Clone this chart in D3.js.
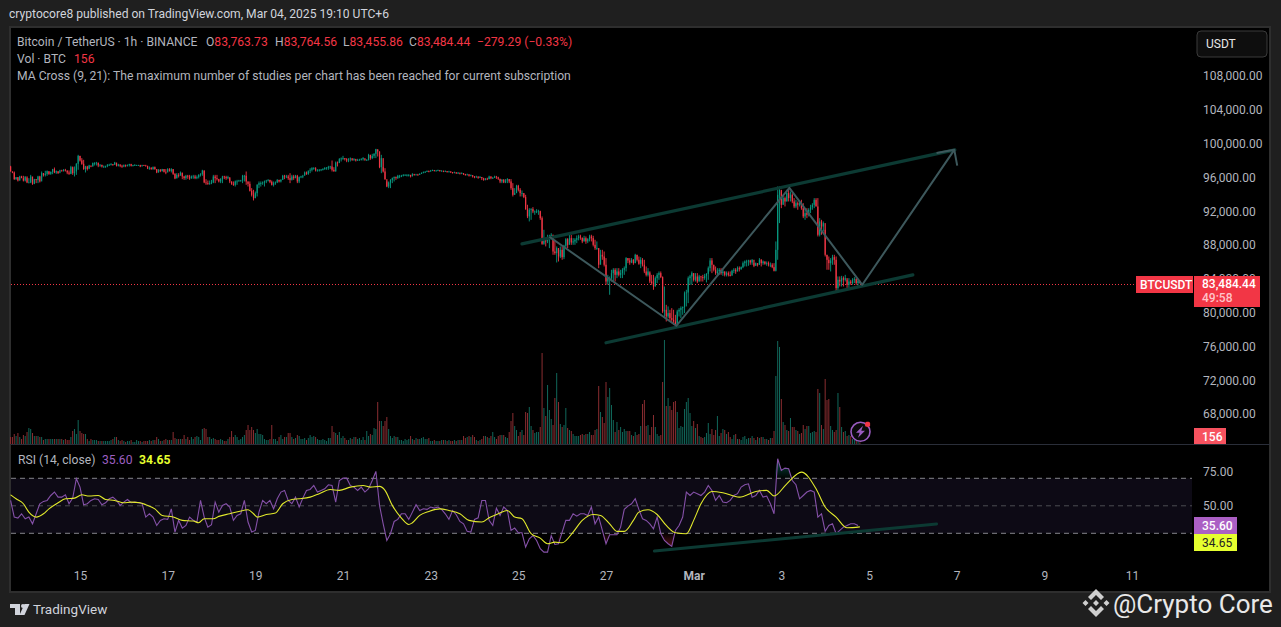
<!DOCTYPE html>
<html>
<head>
<meta charset="utf-8">
<title>BTCUSDT 1h</title>
<script src="https://cdn.jsdelivr.net/npm/d3@7"></script>
<style>
  html, body { margin: 0; padding: 0; background: #1f1f1f; overflow: hidden; }
  svg { display: block; }
  text { font-family: Roboto, "Noto Sans", sans-serif; }
  .axis path { display: none; }
  .axis text { fill: #b2b5be; font-size: 12px; font-family: Roboto, "Noto Sans", sans-serif; }
</style>
</head>
<body>
<script>
// hourly candles, first one is Feb 13 2025 10:00 UTC, one hour apart
const firstOpen = 97290;
const closes = [
96700,96580,95790,96030,95630,96110,95910,95630,96110,95400,
95400,96110,95240,95790,95710,96110,95520,96500,96300,96420,
96740,96420,96660,96980,96580,96740,96500,96820,96740,96900,
96820,96580,96420,97210,96500,96700,97610,98550,98000,97610,
96980,97290,96980,97410,97290,97690,97690,97760,97410,97490,
97290,97290,97370,97490,97490,97570,97490,97760,97370,97530,
97370,97290,97450,97370,97450,97570,97370,97450,97450,97450,
97450,97290,97450,97410,97370,97050,97130,96980,97210,96980,
96580,96900,96740,96980,96660,96580,96980,96740,96980,96420,
95870,96300,96190,96580,96110,95910,96190,96110,95870,96110,
96110,95910,96030,96300,96380,96820,95400,95320,95240,95320,
95400,96110,95910,95790,95520,95790,96110,96030,95910,96030,
95520,95240,95120,95520,95520,95630,95630,96190,96190,95520,
95240,94410,93940,93540,94130,95120,95320,95320,95400,95520,
95630,95710,95480,95120,95320,95400,95710,95520,95710,96190,
96110,96110,95910,95710,96110,95910,96190,95520,96030,96110,
96190,96580,96420,96820,96900,97090,97090,96820,96820,96900,
96940,96980,97130,97170,97210,97290,96900,96700,97760,97690,
98160,98240,98280,98160,98000,98160,98240,98080,98160,98000,
98080,98080,98160,98280,98080,98080,98670,98280,98550,98790,
99340,99070,97210,98280,96700,95790,94920,95400,95710,95910,
96030,95910,96190,96190,96190,96300,96300,96300,96300,96110,
96380,96300,96340,96300,96400,96500,96600,96650,96750,96700,
96800,96850,96780,96800,96850,96750,96780,96700,96750,96650,
96700,96620,96550,96600,96500,96550,96450,96500,96400,96300,
96350,96200,96250,96100,96000,96100,95950,96050,95900,95700,
95850,95800,96100,95900,95950,96100,96000,95850,
95520,95720,95400,95640,95800,95520,94730,93940,94140,95010,
94530,94140,94140,93670,92240,91380,92170,92240,91970,91970,
91970,92050,91180,88140,88810,88420,88810,88810,89210,87230,
87040,87630,86640,87430,86560,87910,88690,88020,88810,88300,
88420,88620,88810,89010,88890,88420,88810,88420,88690,89010,
88810,88020,87630,87630,85660,86840,86640,85660,83680,84080,
84080,84670,85070,84470,84870,84470,84670,85070,85260,86450,
86170,85930,86250,85850,86840,86250,85780,86250,85660,84870,
84470,84870,83680,83490,83090,84080,84470,84670,84200,80130,
80330,79540,79940,79340,79150,78950,78560,80130,80330,80530,
80650,82300,82380,84080,84280,84670,83880,84280,83680,84280,
84200,84080,84350,84590,85260,86170,85660,85070,84670,84870,
85070,84670,84870,84470,84670,84470,84350,84950,85070,84870,
85260,85140,85380,85850,86050,86050,86170,85930,86250,85540,
85850,85660,86250,85850,86050,85780,85850,85660,85660,85380,
84950,87430,93940,94530,92760,93550,93150,94140,93550,93940,
93150,92560,92950,92760,92950,92360,91380,91770,91570,92170,
92480,92760,93350,92560,89210,90790,90190,90590,86840,86250,
85850,86170,86560,86250,82900,83880,83680,84080,83880,84080,
83290,83680,83490,83880,83960,83490,83763,83484];
const highs = [
97370,96700,96700,96030,96030,96190,96190,96190,96110,95910,
95910,96300,95790,95830,95790,96190,96190,96700,96500,96780,
96820,96700,96700,97010,97170,96820,96700,96900,96900,96980,
97010,96820,96820,97370,97290,97290,97690,98670,98550,98280,
98080,97370,97370,97490,97370,97760,97800,97840,97690,97570,
97490,97410,97370,97570,97610,97690,97570,97840,97610,97610,
97530,97490,97530,97530,97530,97610,97610,97490,97570,97490,
97490,97490,97490,97490,97490,97370,97290,97210,97290,97290,
96980,96980,96980,97010,96980,96980,97090,97090,97090,96980,
96500,96500,96500,96700,96500,96190,96300,96300,96300,96230,
96300,96300,96230,96380,96500,96900,96820,95790,95630,95630,
95710,96300,96300,96300,95830,95910,96190,96190,96190,96190,
95910,95520,95520,95630,95710,95710,95710,96300,96300,96700,
95520,95520,94730,94530,94330,95200,95520,95520,95520,95630,
95710,95790,95710,95630,95520,95520,95790,95710,95790,96300,
96300,96300,96300,96500,96300,96300,96300,96300,96110,96190,
96300,96700,96700,96700,97090,97210,97210,97210,96980,96980,
96980,97090,97210,97210,97370,97370,98000,97210,97880,97880,
98280,98360,98550,98280,98280,98280,98360,98280,98280,98200,
98200,98200,98280,98400,98160,98160,98790,98670,98790,98870,
99380,99260,99070,98670,97210,97090,95520,95520,95790,95990,
96110,96110,96300,96300,96300,96380,96380,96380,96380,96300,
96500,96420,96420,96420,96500,96600,96700,96750,96830,96820,
96880,96920,96880,96880,96920,96880,96860,96800,96830,96760,
96780,96720,96640,96680,96620,96640,96560,96600,96520,96420,
96440,96380,96340,96280,96160,96200,96120,96160,96020,95960,
95920,95960,96200,96140,96060,96200,96180,96080,
95800,95800,95800,95800,95910,95800,95800,95320,94730,95120,
95120,94730,94450,94140,93940,92760,92360,92360,92480,92090,
92240,92170,91970,91380,89800,88810,89210,89210,89400,89210,
88620,87830,87630,87830,87830,88020,88810,88810,89400,89210,
88810,88810,89130,89210,89210,88810,89090,89010,88810,89210,
89210,89090,88620,88420,87630,87430,87430,87230,86450,84470,
84280,85070,85260,85260,85260,85260,85070,85260,85460,86560,
86450,86450,86450,86330,86960,86840,86640,86560,86450,86250,
85460,85260,84670,84470,84470,84280,84670,84870,84870,84280,
83090,80920,80730,80330,80530,80330,79740,80330,80530,80730,
80730,82500,82700,84280,84470,84870,84670,84670,84670,84470,
84350,84470,84590,84670,85460,86450,86450,85660,85460,85260,
85260,85260,85070,84870,84870,84870,84870,85070,85260,85260,
85460,85460,85460,86050,86170,86250,86250,86250,86330,85850,
85930,85850,86450,86330,86170,86050,86050,86050,85930,85850,
85850,88420,94930,94930,94340,93940,93740,94530,94730,94340,
94140,93550,93350,93150,93150,93350,92950,92360,92360,92360,
92760,92950,93550,93550,93550,91180,90980,90790,89800,86840,
86640,86450,86840,86840,86640,84280,84280,84350,84280,84470,
83880,84080,83880,84080,84200,84080,84000,83764];
const lows = [
96700,96500,95710,95710,95520,95630,95910,95520,95520,95320,
95320,95320,95120,95200,95320,95320,95400,95990,96110,96110,
96190,96300,96300,96380,96500,96420,96420,96700,96700,96700,
96700,96380,96300,96380,96300,96110,96300,96900,97880,97490,
96900,96580,96820,97090,97210,97290,97410,97410,97210,97250,
97170,97130,97130,97210,97370,97410,97370,97490,97290,97290,
97210,97130,97210,97210,97290,97290,97290,97290,97370,97370,
97370,97210,97370,97370,97290,96980,96900,96900,96900,96900,
96500,96580,96620,96700,96580,96380,96700,96700,96580,96300,
95790,95910,95990,96300,95790,95710,95710,95830,95710,95870,
95830,95790,95790,95870,96110,96190,95320,95120,95120,95120,
95200,95320,95320,95630,95400,95320,95320,95790,95710,95790,
95320,95120,95000,94920,95120,95520,95520,95320,95520,95120,
94920,94330,93740,93270,93540,93740,94730,94920,95120,94920,
95320,95520,95320,95040,94920,95120,95320,95400,95400,95710,
95790,95910,95710,95320,95630,95710,95910,95320,95320,95910,
95910,96300,96300,96300,96500,96700,96900,96700,96700,96700,
96740,96820,96900,96900,96900,96980,96700,96700,96700,97290,
97760,97880,98080,98000,97800,97800,97880,97960,97960,97880,
97960,98000,98000,98000,97960,97960,98000,98080,98160,98280,
98280,98470,97090,96500,96580,95710,94840,94730,94730,95320,
95520,95710,95830,95910,96030,96110,96190,96110,96110,95990,
96200,96200,96250,96200,96300,96400,96500,96550,96650,96600,
96680,96750,96700,96720,96740,96680,96700,96620,96640,96560,
96600,96520,96450,96500,96400,96420,96350,96380,96280,96200,
96240,96100,96140,95980,95900,95960,95840,95920,95680,95600,
95650,95680,95780,95780,95820,95920,95820,95700,
95320,95320,95320,95320,95320,95320,94530,93740,93940,94140,
94340,93740,93740,93550,92170,91180,90790,90980,91770,91570,
91770,91570,90980,88020,88020,87830,88220,87630,88620,86840,
86840,85930,86050,86450,86250,86330,87630,87630,88420,88020,
88020,88020,88220,88540,88620,88220,88420,88140,88220,88420,
88420,87830,87430,87430,85260,86250,86250,85460,83290,83290,
82110,83680,83680,83680,84080,84280,84080,84080,84470,84870,
85850,85660,85850,85660,85850,86050,85660,85260,85460,84670,
84280,84280,83490,83290,82700,83090,83490,83880,84080,79940,
79340,78950,79340,78950,78750,78560,78280,78560,79540,79340,
79740,79940,80730,81120,83290,83290,83680,83680,83490,83680,
83680,83680,83880,83570,83880,84870,84670,84870,84470,84350,
84470,84470,84350,84280,84280,84280,84280,84470,84670,84590,
84870,84870,85070,85260,85460,85460,85540,85660,85660,85380,
85540,85460,85660,85460,85660,85660,85540,85460,85380,85260,
84870,84870,86250,90590,92360,92760,92560,93150,93150,93150,
92950,92360,92360,92170,92560,92170,91180,90980,91180,91380,
91770,92170,92360,92560,89010,89010,89210,89600,86640,85070,
85070,84870,85660,85660,82500,82380,83090,83090,83090,83680,
82900,82900,83290,83290,83490,83290,83090,83455];
// volume in hundreds of BTC
const volumes = [
7,7,10,8,11,7,5,9,8,12,16,15,11,8,8,8,7,7,4,5,
5,5,5,5,5,5,5,5,5,4,5,4,4,7,13,15,10,24,13,11,
10,10,5,3,5,4,4,4,3,3,3,3,3,3,3,4,5,7,7,4,
3,4,3,2,3,3,4,2,2,4,3,3,2,3,3,3,4,3,4,4,
7,5,3,3,4,5,4,4,4,12,6,5,5,5,5,9,5,7,4,7,
5,7,8,7,4,15,16,15,7,7,5,6,5,4,4,5,4,3,3,5,
7,13,7,9,7,4,5,7,9,14,19,14,17,14,11,15,10,10,9,5,
4,4,5,19,5,5,3,7,9,5,7,7,11,11,7,5,6,9,8,5,
5,6,4,6,9,7,8,7,5,4,4,5,4,3,6,6,18,12,11,9,
12,6,8,6,4,4,6,5,7,7,5,6,4,7,4,13,8,10,9,16,
15,42,23,23,18,23,27,15,8,6,8,7,7,4,4,3,5,4,5,8,
5,4,6,5,5,6,7,5,5,6,3,3,4,3,3,
3,4,4,4,3,4,3,3,4,3,4,4,4,8,6,7,8,7,9,7,
4,3,4,5,8,8,7,6,8,12,7,5,8,9,9,9,7,6,12,23,
31,18,14,8,12,14,9,32,31,37,18,14,11,12,12,17,91,36,28,59,
34,25,19,46,71,42,20,17,19,36,16,14,13,10,8,8,8,9,10,9,
10,10,12,9,9,14,15,58,32,27,21,62,47,56,39,24,12,22,14,17,
12,15,13,13,13,9,8,12,9,10,18,40,44,18,19,9,17,29,17,10,
8,9,62,104,38,46,38,34,42,43,32,16,18,17,35,42,46,31,18,23,
16,20,8,7,6,7,11,21,10,15,9,14,28,8,11,15,14,10,12,7,
5,9,10,5,5,4,7,8,5,6,6,8,6,4,7,6,7,7,5,5,
4,6,6,13,68,103,97,45,22,19,14,13,26,17,17,14,13,10,11,19,
15,18,18,11,12,13,12,55,51,19,15,65,44,45,18,14,12,14,51,37,
17,12,13,8,9,8,5,4,3,3,1.56];
// rsi read every second hour
const rsiValues = [
53.9,41.8,41.1,44.2,40.6,41.8,36.9,44.2,51.5,53.2,
53.9,57.5,60,56.3,56.3,58,51.5,55.6,69.7,63.6,
50.8,51.5,53.9,55.1,54.6,50.8,52.2,55.1,56.3,53.9,
50.3,52.7,54.6,52.2,52.7,52.2,51.5,41.8,44.2,41.8,
35.7,39.4,40.6,40.1,47.8,30.9,39.4,33.8,35.7,41.8,
39.4,38.2,53.9,41.8,34.5,36.2,52.7,45.4,50.3,51.5,
49.1,39.4,43,44.2,53.9,38.2,30.9,32.1,45.4,53.9,
51.5,53.9,47.8,55.1,60,61.2,53.9,51.5,56.3,49.1,
55.6,61.2,61.9,64.8,60,61.2,62.4,65.3,64.8,52.7,
68.4,70.1,70.1,64.8,63.6,61.2,63.6,60,62.4,68.4,
75,50.3,36.9,24.8,29.7,38.6,40.1,44.2,44.2,40.1,
45.4,50.8,46.6,47.8,47.4,49.1,48.3,
49.1,47.4,44.2,40.1,46.6,43.5,38.6,36.9,31.4,30.9,
40.1,41.3,53.9,53.9,39.4,35.7,48.3,43,49.1,46.6,
32.1,33.8,30.4,30.4,20,26,28.4,24.8,18.8,16.3,
16.3,28.4,21.9,22.4,30.9,39.4,39.4,44.2,42.5,44.2,
44.2,43,49.1,36.9,41.8,32.1,22.4,28.9,28.9,28.9,
34.5,47.4,49.8,51.5,55.1,47.4,40.6,39.4,36.9,33.3,
41.8,29.7,24.8,22.4,20.5,32.1,35.7,41.8,60,57.5,
60,58.8,57.5,60,64.8,61.2,53.9,57.5,52.7,52.2,
53.9,57.5,58.8,63.6,65.3,66,56.3,57.5,61.2,56.3,
57.1,51.5,44.2,84.2,75.7,77.4,76.9,68.4,65.3,55.1,
57.5,60,61.2,60,41.8,44.2,31.4,35.7,36.9,29.7,
32.1,34.5,35.7,36.9,36.9,35.6];
const maHours = [
0,3,7,10,14,18,21,26,30,35,39,43,48,52,57,62,66,71,74,79,
83,89,94,100,103,106,111,114,120,125,130,133,135,140,145,149,154,158,164,169,
175,180,186,193,197,202,205,209,214,218,220,224,229,235,
240,246,251,258,262,267,272,276,280,285,290,294,298,302,308,313,319,323,328,332,
336,341,344,349,354,359,364,370,374,378,384,390,399,408,414,418,425,433,441,446,
452,458,465];
const maValues = [
58,55.1,51.5,45.4,41.8,44.2,47.8,52.2,55.1,55.6,58,57.1,57.5,54.6,53.9,52.2,52.7,52.2,50.8,47.8,
43,41.8,39.4,38.9,37.7,40.6,40.6,42.3,44.2,45.9,47.1,44.2,41.8,43.7,44.7,51.5,54.6,55.1,56.3,58.8,
61.9,61.2,63.6,64.8,63.6,64.1,61.2,50.3,41.1,36.4,37.7,43,45.9,47.8,
46.6,44.2,39.4,38.2,41.3,44.2,46.6,41.8,40.6,29.7,26.5,22.4,23.6,23.1,30.9,39.4,43.7,43,36.9,31.4,
31.4,39.4,45.4,47.1,43.7,35.7,30.4,29.7,39.4,51.5,60.4,59.5,56.3,60.4,61.2,57.1,66,74.5,62.4,49.1,
41.8,34,34.65];

const priceTicks = [108000,104000,100000,96000,92000,88000,84000,80000,76000,72000,68000];
const rsiTicks = [75,50];
const rsiBands = [70,50,30];
const timeTicks = ["2025-02-15","2025-02-17","2025-02-19","2025-02-21","2025-02-23","2025-02-25","2025-02-27","2025-03-01","2025-03-03","2025-03-05","2025-03-07","2025-03-09","2025-03-11"];
const timeLabels = ["15","17","19","21","23","25","27","Mar","3","5","7","9","11"];

// hand drawn lines as [hour, price] / [hour, rsi]
const channelUpper = [[280,88140],[517,99260]];
const channelLower = [[326,76430],[494,84470]];
const zigzag = [[295,88970],[364.5,78440],[426.4,94770],[466.3,83290],[516.7,99260]];
const arrowHead = [[507,98900],[516.7,99260],[518.3,97400]];
const rsiTrend = [[352.5,17.1],[507,36.8]];

const lastPrice = 83484.44, lastVolume = 1.56, lastRsi = 35.60, lastMa = 34.65;

const W = 1281, H = 627;
const red = "#f23645", green = "#089981";
const svg = d3.select("body").append("svg").attr("width", W).attr("height", H);

// frame
svg.append("rect").attr("width", W).attr("height", H).attr("fill", "#1f1f1f");
svg.append("rect").attr("x", 10).attr("y", 27).attr("width", 1260).attr("height", 565)
   .attr("fill", "#000").attr("stroke", "#2e2e2e").attr("stroke-width", 2);

const firstCandle = Date.UTC(2025, 1, 13, 10);
const toDate = h => new Date(firstCandle + h * 3600e3);
const x = d3.scaleUtc()
    .domain([new Date("2025-02-15T00:00Z"), new Date("2025-03-11T00:00Z")])
    .range([80, 1132]);
const xh = h => x(toDate(h));
const y = d3.scaleLinear().domain([68000, 108000]).range([414, 76]);
const yVol = d3.scaleLinear().domain([0, 104]).range([444, 340]);
const yRsi = d3.scaleLinear().domain([30, 70]).range([533.3, 478.3]);

const plotLeft = 11, rsiRight = 1192;

// volume
svg.append("g").selectAll("rect").data(volumes).join("rect")
   .attr("x", (d, i) => xh(i) - 0.5)
   .attr("width", 1)
   .attr("y", d => yVol(d))
   .attr("height", d => yVol(0) - yVol(d))
   .attr("fill", (d, i) => closes[i] >= (i ? closes[i - 1] : firstOpen) ? "#11675a" : "#8a2d31");

// last price line
const priceLineY = Math.round(y(lastPrice) + 0.5) + 0.5;
svg.append("line").attr("x1", plotLeft).attr("x2", 1136)
   .attr("y1", priceLineY).attr("y2", priceLineY)
   .attr("stroke", red).attr("stroke-width", 1).attr("stroke-dasharray", "1 2");

// candles
const candles = svg.append("g").selectAll("g").data(closes).join("g")
   .attr("fill", (d, i) => d >= (i ? closes[i - 1] : firstOpen) ? green : red)
   .attr("stroke", (d, i) => d >= (i ? closes[i - 1] : firstOpen) ? green : red);
candles.append("line")
   .attr("x1", (d, i) => xh(i)).attr("x2", (d, i) => xh(i))
   .attr("y1", (d, i) => y(highs[i])).attr("y2", (d, i) => y(lows[i]))
   .attr("stroke-width", 0.9);
candles.append("rect")
   .attr("x", (d, i) => xh(i) - 0.6).attr("width", 1.2)
   .attr("y", (d, i) => y(Math.max(d, i ? closes[i - 1] : firstOpen)))
   .attr("height", (d, i) => Math.max(0.8, Math.abs(y(d) - y(i ? closes[i - 1] : firstOpen))))
   .attr("stroke", "none");

// drawings on the price pane
const priceLine = d3.line().x(d => xh(d[0])).y(d => y(d[1]));
[channelUpper, channelLower].forEach(p => {
  svg.append("path").attr("d", priceLine(p)).attr("fill", "none")
     .attr("stroke", "#0c3a33").attr("stroke-width", 3.2).attr("stroke-linecap", "round");
});
[zigzag, arrowHead].forEach(p => {
  svg.append("path").attr("d", priceLine(p)).attr("fill", "none")
     .attr("stroke", "#3d585c").attr("stroke-width", 2).attr("stroke-linejoin", "round");
});

// pane separator
svg.append("line").attr("x1", 11).attr("x2", 1270).attr("y1", 444.5).attr("y2", 444.5).attr("stroke", "#2a2e39");

// rsi pane
const defs = svg.append("defs");
const grad = (id, c, from, to) => {
  const g = defs.append("linearGradient").attr("id", id).attr("gradientUnits", "userSpaceOnUse")
    .attr("x1", 0).attr("x2", 0).attr("y1", yRsi(from)).attr("y2", yRsi(to));
  g.append("stop").attr("offset", 0).attr("stop-color", c).attr("stop-opacity", 0.02);
  g.append("stop").attr("offset", 1).attr("stop-color", c).attr("stop-opacity", 0.55);
};
grad("os", red, 30, 15);
grad("ob", green, 70, 85);

svg.append("rect").attr("x", plotLeft).attr("width", rsiRight - plotLeft)
   .attr("y", yRsi(70)).attr("height", yRsi(30) - yRsi(70)).attr("fill", "#0d0a15");
svg.append("g").selectAll("line").data(rsiBands).join("line")
   .attr("x1", plotLeft).attr("x2", rsiRight)
   .attr("y1", d => yRsi(d)).attr("y2", d => yRsi(d))
   .attr("stroke", d => d === 50 ? "#4c4c52" : "#85858b")
   .attr("stroke-dasharray", "5 4");

const rsiPts = rsiValues.map((v, i) => [i * 2, v]);
const fillPts = rsiPts.filter(d => d[0] >= 300);
svg.append("path").datum(fillPts).attr("fill", "url(#os)")
   .attr("d", d3.area().x(d => xh(d[0])).y0(yRsi(30)).y1(d => yRsi(Math.min(d[1], 30))));
svg.append("path").datum(fillPts).attr("fill", "url(#ob)")
   .attr("d", d3.area().x(d => xh(d[0])).y0(yRsi(70)).y1(d => yRsi(Math.max(d[1], 70))));

svg.append("path").datum(rsiPts).attr("fill", "none").attr("stroke", "#8551a8").attr("stroke-width", 1.1)
   .attr("d", d3.line().x(d => xh(d[0])).y(d => yRsi(d[1])));
svg.append("path").datum(maHours.map((h, i) => [h, maValues[i]])).attr("fill", "none")
   .attr("stroke", "#e2ea2c").attr("stroke-width", 1.1)
   .attr("d", d3.line().curve(d3.curveMonotoneX).x(d => xh(d[0])).y(d => yRsi(d[1])));

svg.append("path").attr("d", d3.line().x(d => xh(d[0])).y(d => yRsi(d[1]))(rsiTrend)).attr("fill", "none")
   .attr("stroke", "#0c3a33").attr("stroke-width", 3).attr("stroke-linecap", "round");

// axes
const priceAxis = svg.append("g").attr("class", "axis").attr("transform", "translate(1196,0)")
   .call(d3.axisRight(y).tickValues(priceTicks).tickSize(0).tickPadding(7).tickFormat(d3.format(",.2f")));
const rsiAxis = svg.append("g").attr("class", "axis").attr("transform", "translate(1196,0)")
   .call(d3.axisRight(yRsi).tickValues(rsiTicks).tickSize(0).tickPadding(7).tickFormat(d3.format(".2f")));
const timeAxis = svg.append("g").attr("class", "axis").attr("transform", "translate(0,568)")
   .call(d3.axisBottom(x).tickValues(timeTicks.map(d => new Date(d + "T00:00Z"))).tickSize(0).tickPadding(3)
   .tickFormat((d, i) => timeLabels[i]));
timeAxis.selectAll("text").filter((d, i) => timeLabels[i] === "Mar").attr("font-weight", 700).attr("fill", "#d1d4dc");

// legend rows
const legend = svg.append("g").attr("font-size", 12.15);
const grey = "#b2b5be";
const legendRow = (px, py, txt, col, bold) => legend.append("text").attr("x", px).attr("y", py)
   .attr("fill", col).attr("font-weight", bold ? 700 : 400).text(txt);
legendRow(17, 46, "Bitcoin / TetherUS · 1h · BINANCE", grey);
[["O", 206, "83,763.73"], ["H", 275, "83,764.56"], ["L", 343, "83,455.86"], ["C", 409, "83,484.44"]].forEach(r => {
  const t = legendRow(r[1], 46, r[0], grey);
  t.append("tspan").attr("fill", red).text(r[2]);
});
legendRow(477, 46, "−279.29 (−0.33%)", red);
legendRow(17, 63, "Vol · BTC", grey);
legendRow(74, 63, "156", red);
legendRow(17, 80, "MA Cross (9, 21): The maximum number of studies per chart has been reached for current subscription", grey);
legendRow(18, 464, "RSI (14, close)", grey);
legendRow(102, 464, "35.60", "#9c5fc0");
legendRow(139, 464, "34.65", "#e6ff2f", true);

// title
svg.append("text").attr("x", 9).attr("y", 18).attr("font-size", 12.1).attr("fill", "#d1d4dc")
   .text("cryptocore8 published on TradingView.com, Mar 04, 2025 19:10 UTC+6");

// USDT button
svg.append("rect").attr("x", 1197).attr("y", 31).attr("width", 70).attr("height", 26).attr("rx", 4)
   .attr("fill", "#0e0e0e").attr("stroke", "#3a3a3a");
svg.append("text").attr("x", 1206).attr("y", 48).attr("font-size", 12).attr("fill", "#e6e6e6").text("USDT");

// price tags
const tag = (px, py, w, h, col) => svg.append("rect").attr("x", px).attr("y", py).attr("width", w).attr("height", h).attr("fill", col);
const tagText = (px, py, txt, col, bold) => svg.append("text").attr("x", px).attr("y", py).attr("font-size", 12)
   .attr("font-weight", bold ? 500 : 400).attr("fill", col).text(txt);
tag(1136, 276, 57, 17, red);
tagText(1140, 289, "BTCUSDT", "#fff", true);
tag(1194, 276, 66, 31, red);
tagText(1202, 288, d3.format(",.2f")(lastPrice), "#fff", true);
tagText(1202, 302, "49:58", "#ffc4c9", true);
tag(1194, 428, 32, 16, "#f7525f");
tagText(1202, 441, String(Math.round(lastVolume * 100)), "#fff", true);
tag(1194, 517, 43, 17, "#ab5fc4");
tagText(1202, 530, d3.format(".2f")(lastRsi), "#fff", true);
tag(1194, 534, 43, 17, "#e6ff2f");
tagText(1202, 547, d3.format(".2f")(lastMa), "#222", false);

// bolt icon
const bolt = svg.append("g").attr("transform", "translate(860.5,431.8)");
bolt.append("circle").attr("r", 9.5).attr("fill", "#0a0a0a").attr("stroke", "#9a5cc0").attr("stroke-width", 1.6);
bolt.append("path").attr("d", "M2.5,-6 L-4.5,1 L-0.8,1 L-2.5,6 L4.5,-1 L0.8,-1 Z").attr("fill", "#9a5cc0");
bolt.append("rect").attr("x", 4.6).attr("y", -10).attr("width", 5).attr("height", 5).attr("rx", 1.6).attr("fill", red);

// TradingView footer logo
const tv = svg.append("g").attr("fill", "#d1d4dc");
tv.append("path").attr("d", "M10,604 H20 V615 H15 V608 H10 Z M29.5,604 L24.5,615 H19.5 L24.5,604 Z");
tv.append("circle").attr("cx", 23).attr("cy", 606).attr("r", 2);
svg.append("text").attr("x", 33).attr("y", 614).attr("font-size", 13.5).attr("fill", "#d1d4dc").text("TradingView");

// watermark
const mark = svg.append("g").attr("transform", "translate(1096,603)").attr("fill", "#cfcfcf");
mark.append("path").attr("d", "M0,-14 L8,-6 L5,-3 L0,-8 L-5,-3 L-8,-6 Z M0,14 L8,6 L5,3 L0,8 L-5,3 L-8,6 Z M0,-3 L3,0 L0,3 L-3,0 Z M-10.5,-3 L-7.5,0 L-10.5,3 L-13.5,0 Z M10.5,-3 L13.5,0 L10.5,3 L7.5,0 Z");
svg.append("text").attr("x", 1113).attr("y", 613).attr("font-size", 26).attr("fill", "#e8e8e8").text("@Crypto Core");
</script>
</body>
</html>
